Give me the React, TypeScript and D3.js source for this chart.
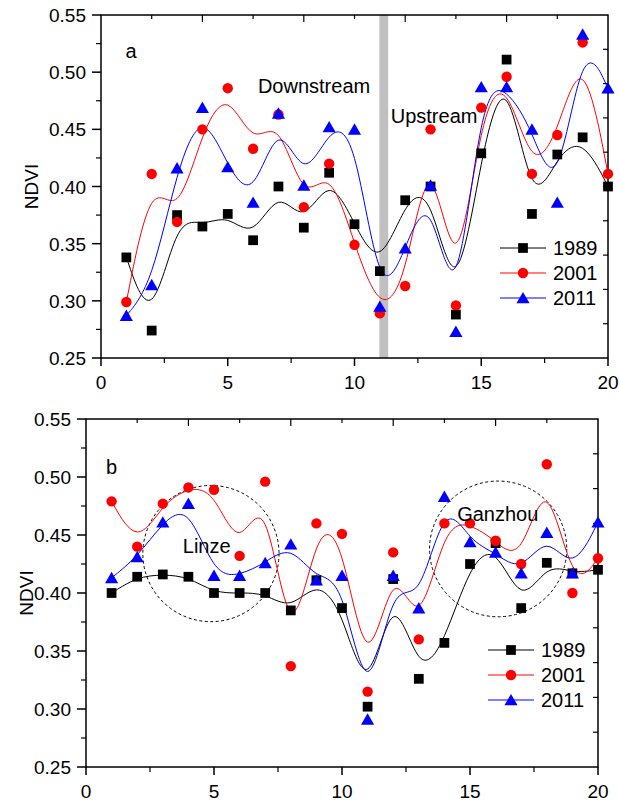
import React, { useEffect, useRef } from 'react';
import * as d3 from 'd3';

// station index along the river
const stations = d3.range(1, 21);
const years = ['1989', '2001', '2011'];

// panel a: NDVI by year
const a1989 = [0.338, 0.274, 0.375, 0.365, 0.376, 0.353, 0.400, 0.364, 0.412, 0.367,
  0.326, 0.388, 0.400, 0.288, 0.429, 0.511, 0.376, 0.428, 0.443, 0.400];
const a2001 = [0.299, 0.411, 0.369, 0.450, 0.486, 0.433, 0.463, 0.382, 0.420, 0.349,
  0.289, 0.313, 0.450, 0.296, 0.469, 0.496, 0.411, 0.445, 0.526, 0.411];
const a2011 = [0.287, 0.314, 0.416, 0.469, 0.417, 0.386, 0.464, 0.401, 0.452, 0.450,
  0.295, 0.346, 0.401, 0.273, 0.487, 0.487, 0.450, 0.386, 0.533, 0.486];

// panel b: NDVI by year
const b1989 = [0.400, 0.414, 0.416, 0.414, 0.400, 0.400, 0.400, 0.385, 0.411, 0.387,
  0.302, 0.412, 0.326, 0.357, 0.425, 0.443, 0.387, 0.426, 0.417, 0.420];
const b2001 = [0.479, 0.440, 0.477, 0.491, 0.489, 0.432, 0.496, 0.337, 0.460, 0.451,
  0.315, 0.435, 0.360, 0.460, 0.460, 0.445, 0.425, 0.511, 0.400, 0.430];
const b2011 = [0.413, 0.431, 0.461, 0.477, 0.415, 0.415, 0.426, 0.442, 0.411, 0.415,
  0.291, 0.415, 0.387, 0.483, 0.444, 0.435, 0.417, 0.452, 0.417, 0.461];

const yTicks = [0.25, 0.30, 0.35, 0.40, 0.45, 0.50, 0.55];
const xTicks = [0, 5, 10, 15, 20];

const colors = ['#000000', '#ff0000', '#0000ff'];
const symbols = [d3.symbolSquare, d3.symbolCircle, d3.symbolTriangle];
const symSizes = [95, 85, 75];

const font = 'Liberation Sans, Arial, Helvetica, sans-serif';

function drawPanel(svg, cfg) {
  const { left, right, top, bottom, series, label, notes, legend, band, circles, yLabelX } = cfg;
  const x = d3.scaleLinear().domain([0, 20]).range([left, right]);
  const y = d3.scaleLinear().domain([0.25, 0.55]).range([bottom, top]);
  const g = svg.append('g');

  if (band) {
    g.append('rect')
      .attr('x', x(band[0])).attr('width', x(band[1]) - x(band[0]))
      .attr('y', top).attr('height', bottom - top)
      .attr('fill', '#c0c0c0');
  }

  // frame
  g.append('rect')
    .attr('x', left).attr('y', top)
    .attr('width', right - left).attr('height', bottom - top)
    .attr('fill', 'none').attr('stroke', '#000').attr('stroke-width', 1.5);

  // bottom axis ticks
  xTicks.forEach(t => {
    g.append('line').attr('x1', x(t)).attr('x2', x(t)).attr('y1', bottom).attr('y2', bottom + 8)
      .attr('stroke', '#000').attr('stroke-width', 1.5);
    g.append('text').attr('x', x(t)).attr('y', bottom + 31).attr('text-anchor', 'middle')
      .attr('font-family', font).attr('font-size', 19).text(t);
  });
  d3.range(2.5, 20, 5).forEach(t => {
    g.append('line').attr('x1', x(t)).attr('x2', x(t)).attr('y1', bottom).attr('y2', bottom + 5)
      .attr('stroke', '#000').attr('stroke-width', 1.2);
  });
  // top ticks (inward)
  d3.range(2, 20, 2).forEach(t => {
    const len = t % 4 === 0 ? 7 : 4;
    g.append('line').attr('x1', x(t)).attr('x2', x(t)).attr('y1', top).attr('y2', top + len)
      .attr('stroke', '#000').attr('stroke-width', 1.2);
  });

  // left axis
  yTicks.forEach(t => {
    g.append('line').attr('x1', left - 9).attr('x2', left).attr('y1', y(t)).attr('y2', y(t))
      .attr('stroke', '#000').attr('stroke-width', 1.5);
    g.append('text').attr('x', left - 15).attr('y', y(t) + 7).attr('text-anchor', 'end')
      .attr('font-family', font).attr('font-size', 19).text(t.toFixed(2));
  });
  d3.range(0.275, 0.55, 0.05).forEach(t => {
    g.append('line').attr('x1', left - 5).attr('x2', left).attr('y1', y(t)).attr('y2', y(t))
      .attr('stroke', '#000').attr('stroke-width', 1.2);
  });
  // right ticks (inward)
  d3.range(1, 10).forEach(k => {
    const yy = top + (bottom - top) * k / 10;
    g.append('line').attr('x1', right - 5).attr('x2', right).attr('y1', yy).attr('y2', yy)
      .attr('stroke', '#000').attr('stroke-width', 1.2);
  });

  g.append('text')
    .attr('transform', `translate(${yLabelX},${(top + bottom) / 2}) rotate(-90)`)
    .attr('text-anchor', 'middle').attr('font-family', font).attr('font-size', 19)
    .text('NDVI');

  if (circles) {
    circles.forEach(c => {
      g.append('ellipse')
        .attr('cx', x(c.cx)).attr('cy', y(c.cy))
        .attr('rx', x(c.rx) - x(0)).attr('ry', y(0.25) - y(0.25 + c.ry))
        .attr('fill', 'none').attr('stroke', '#000').attr('stroke-width', 1)
        .attr('stroke-dasharray', '3,2.5');
    });
  }

  const line = d3.line().x((d, i) => x(stations[i])).y(d => y(d)).curve(d3.curveBasis);

  series.forEach((vals, si) => {
    g.append('path').attr('d', line(vals)).attr('fill', 'none')
      .attr('stroke', colors[si]).attr('stroke-width', 1);
  });
  series.forEach((vals, si) => {
    const sym = d3.symbol().type(symbols[si]).size(symSizes[si]);
    g.selectAll(null).data(vals).enter().append('path')
      .attr('d', sym)
      .attr('transform', (d, i) => `translate(${x(stations[i])},${y(d) + (si === 2 ? 1.5 : 0)})`)
      .attr('fill', colors[si]);
  });

  g.append('text').attr('x', x(label.x)).attr('y', y(label.y))
    .attr('font-family', font).attr('font-size', 20).text(label.text);
  notes.forEach(n => {
    g.append('text').attr('x', x(n.x)).attr('y', y(n.y))
      .attr('font-family', font).attr('font-size', 20).text(n.text);
  });

  // legend
  years.forEach((yr, i) => {
    const ly = legend.y + i * 25;
    g.append('line').attr('x1', legend.x).attr('x2', legend.x + 46).attr('y1', ly).attr('y2', ly)
      .attr('stroke', colors[i]).attr('stroke-width', 1);
    g.append('path').attr('d', d3.symbol().type(symbols[i]).size(symSizes[i])())
      .attr('transform', `translate(${legend.x + 23},${ly + (i === 2 ? 1.5 : 0)})`)
      .attr('fill', colors[i]);
    g.append('text').attr('x', legend.x + 53).attr('y', ly + 7)
      .attr('font-family', font).attr('font-size', 20).text(yr);
  });
}

const App = () => {
  const svgRef = useRef(null);

  useEffect(() => {
    const svg = d3.select(svgRef.current);
    svg.selectAll('*').remove();

    drawPanel(svg, {
      left: 101, right: 608, top: 15, bottom: 358,
      yLabelX: 38,
      series: [a1989, a2001, a2011],
      band: [10.98, 11.33],
      label: { x: 0.97, y: 0.512, text: 'a' },
      notes: [
        { x: 6.19, y: 0.482, text: 'Downstream' },
        { x: 11.43, y: 0.4555, text: 'Upstream' },
      ],
      legend: { x: 500, y: 248 },
    });

    drawPanel(svg, {
      left: 86, right: 598, top: 419, bottom: 767,
      yLabelX: 33,
      series: [b1989, b2001, b2011],
      label: { x: 0.78, y: 0.503, text: 'b' },
      notes: [
        { x: 3.78, y: 0.4345, text: 'Linze' },
        { x: 14.5, y: 0.4624, text: 'Ganzhou' },
      ],
      circles: [
        { cx: 4.88, cy: 0.434, rx: 2.66, ry: 0.0587 },
        { cx: 16.1, cy: 0.438, rx: 2.68, ry: 0.0585 },
      ],
      legend: { x: 488, y: 650 },
    });
  }, []);

  return (
    <svg ref={svgRef} width={620} height={802}
      style={{ position: 'absolute', left: 0, top: 0, background: '#fff' }} />
  );
};

export default App;
